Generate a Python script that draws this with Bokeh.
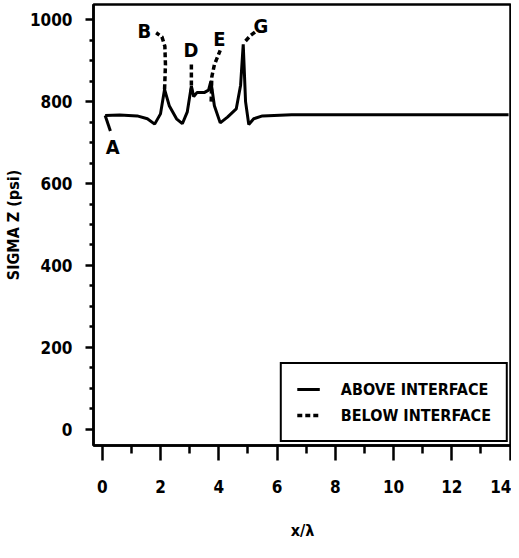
from bokeh.plotting import figure
from bokeh.models import FixedTicker, Range1d, Legend, LegendItem
from bokeh.core.properties import value
from bokeh.embed import file_html
from bokeh.resources import INLINE

FONT = "'DejaVu Sans Condensed', 'Liberation Sans Narrow', 'Liberation Sans', sans-serif"
nan = float("nan")

# Above interface (solid) — x/lambda and sigma z (psi)
x_above = [0.1, 0.6, 1.2, 1.55, 1.8, 2.0, 2.14, 2.3, 2.55, 2.75, 2.92, 3.06, 3.14,
           3.25, 3.5, 3.65, 3.73, 3.85, 4.05, 4.3, 4.6, 4.75, 4.84, 4.92, 5.03,
           5.2, 5.5, 6.5, 8.0, 10.0, 12.0, 13.95]
sigma_above = [766, 767, 765, 758, 745, 770, 830, 790, 758, 746, 775, 838, 812,
               822, 822, 828, 850, 790, 748, 762, 782, 840, 940, 800, 744,
               758, 765, 768, 768, 768, 768, 768]

# Below interface (dashed) — only where it departs from the solid curve
x_below = [2.14, 2.17, 2.15, 2.05, 1.85, nan,
           3.06, 3.06, nan,
           3.74, 3.76, 3.85, 4.05, nan,
           4.92, 5.1, 5.25]
sigma_below = [830, 890, 935, 958, 968, nan,
               820, 893, nan,
               800, 860, 890, 925, nan,
               948, 962, 970]

# Point labels
label_names = ["A", "B", "D", "E", "G"]
label_x = [0.36, 1.45, 3.05, 4.02, 5.45]
label_y = [688, 972, 926, 954, 985]
leader_x = [0.1, 0.28]
leader_y = [766, 728]

x_major = [0, 2, 4, 6, 8, 10, 12, 14]
x_minor = [1, 3, 5, 7, 9, 11, 13]
y_major = [0, 200, 400, 600, 800, 1000]
y_minor = [50, 100, 150, 250, 300, 350, 450, 500, 550, 650, 700, 750, 850, 900, 950]

p = figure(width=511, height=542, output_backend="svg", toolbar_location=None,
           x_range=Range1d(-0.3, 14.05), y_range=Range1d(-39.5, 1037),
           min_border_left=85, min_border_top=4, min_border_right=0,
           min_border_bottom=0)

p.xgrid.visible = False
p.ygrid.visible = False
p.outline_line_color = "black"
p.outline_line_width = 2.5
p.outline_line_alpha = 1.0

r_above = p.line(x_above, sigma_above, line_color="black", line_width=3)
r_below = p.line(x_below, sigma_below, line_color="black", line_width=3.5,
                 line_dash="5 3")
p.line(leader_x, leader_y, line_color="black", line_width=3)
p.text(label_x, label_y, text=label_names, text_font=value(FONT),
       text_font_style="bold", text_font_size="20px", text_align="center",
       text_baseline="middle", text_color="black")

for ax in (p.xaxis[0], p.yaxis[0]):
    ax.axis_line_width = 2.5
    ax.major_tick_line_width = 2.5
    ax.minor_tick_line_width = 2.5
    ax.major_tick_in = 0
    ax.minor_tick_in = 0
    ax.major_label_text_font = FONT
    ax.major_label_text_font_style = "bold"
    ax.major_label_text_font_size = "17px"
    ax.major_label_text_color = "black"
    ax.axis_label_text_font = FONT
    ax.axis_label_text_font_style = "bold"
    ax.axis_label_text_font_size = "16px"
    ax.axis_label_text_color = "black"

p.xaxis[0].ticker = FixedTicker(ticks=x_major, minor_ticks=x_minor)
p.yaxis[0].ticker = FixedTicker(ticks=y_major, minor_ticks=y_minor)
p.xaxis[0].major_tick_out = 15
p.xaxis[0].minor_tick_out = 8
p.yaxis[0].major_tick_out = 8
p.yaxis[0].minor_tick_out = 4
p.xaxis[0].major_label_standoff = 19
p.yaxis[0].major_label_standoff = 13
p.xaxis[0].axis_label = "x/\u03bb"
p.yaxis[0].axis_label = "SIGMA Z (psi)"
p.xaxis[0].axis_label_standoff = 25
p.yaxis[0].axis_label_standoff = 4

legend = Legend(items=[LegendItem(label="ABOVE INTERFACE", renderers=[r_above]),
                       LegendItem(label="BELOW INTERFACE", renderers=[r_below])],
                location="bottom_right", margin=3, padding=15, spacing=6,
                glyph_width=23, glyph_height=20, label_height=20,
                label_standoff=21, label_text_font=FONT,
                label_text_font_style="bold", label_text_font_size="16px",
                label_text_color="black",
                border_line_color="black", border_line_width=2.5,
                border_line_alpha=1.0, background_fill_alpha=1.0)
p.add_layout(legend)

open("out.html", "w").write(file_html(p, INLINE))
